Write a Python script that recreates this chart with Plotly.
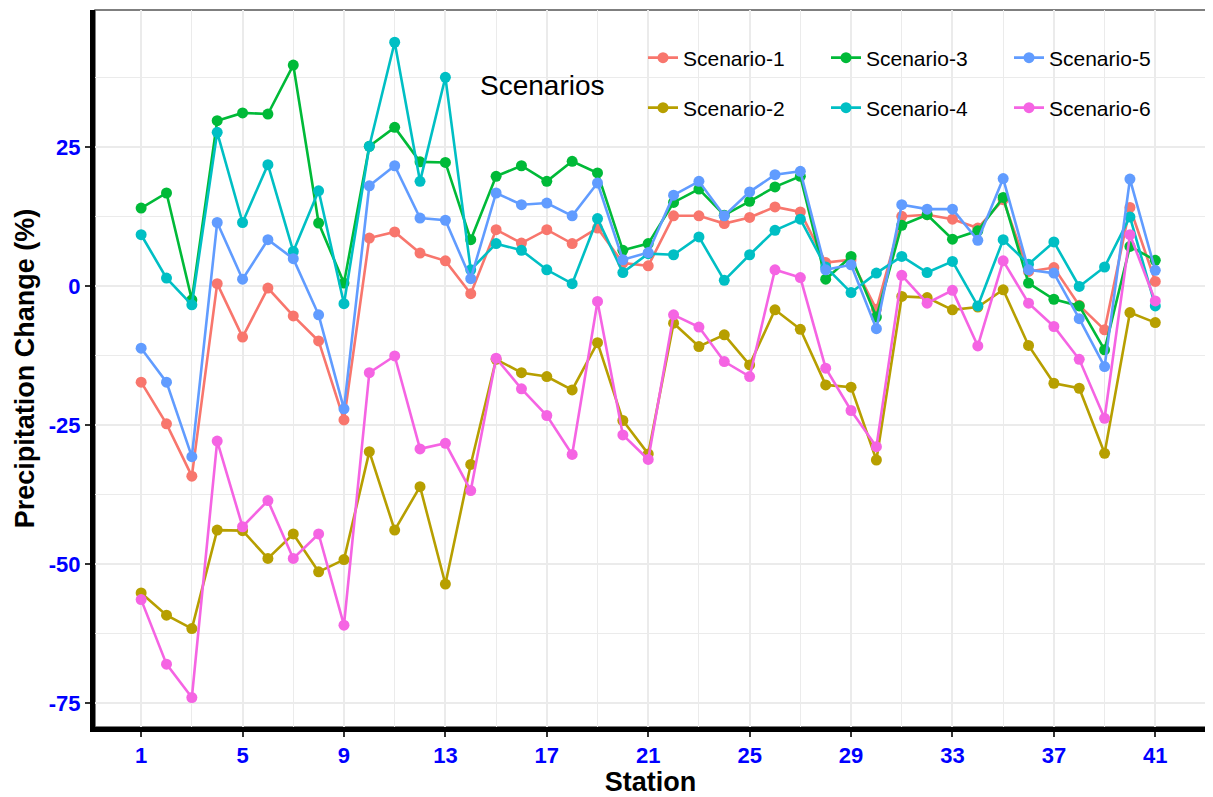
import plotly.graph_objects as go

stations = list(range(1, 42))

scenario_1 = [-17.3, -24.8, -34.2, 0.4, -9.2, -0.4, -5.4, -9.9, -24.1, 8.6,
              9.7, 5.9, 4.5, -1.4, 10.1, 7.7, 10.1, 7.6, 10.4, 4.1,
              3.6, 12.6, 12.6, 11.2, 12.3, 14.2, 13.3, 4.2, 4.7, -4.2,
              12.5, 12.8, 12.0, 10.4, 15.5, 2.6, 3.3, -3.5, -7.9, 14.1, 0.8]
scenario_2 = [-55.2, -59.2, -61.6, -43.9, -44.0, -49.0, -44.6, -51.4, -49.2, -29.8,
              -43.9, -36.1, -53.6, -32.1, -13.2, -15.6, -16.3, -18.7, -10.2, -24.2,
              -30.2, -6.7, -10.9, -8.8, -14.2, -4.3, -7.8, -17.8, -18.2, -31.3,
              -1.9, -2.1, -4.3, -3.8, -0.7, -10.7, -17.5, -18.4, -30.1, -4.8, -6.6]
scenario_3 = [14.0, 16.7, -2.5, 29.7, 31.1, 30.9, 39.7, 11.3, 0.5, 25.1,
              28.5, 22.3, 22.2, 8.3, 19.7, 21.6, 18.8, 22.4, 20.3, 6.4,
              7.6, 15.0, 17.4, 12.7, 15.2, 17.8, 19.7, 1.2, 5.3, -5.6,
              10.9, 12.8, 8.4, 9.9, 15.9, 0.5, -2.4, -3.6, -11.5, 7.1, 4.6]
scenario_4 = [9.2, 1.4, -3.4, 27.6, 11.4, 21.8, 6.2, 17.1, -3.2, 25.1,
              43.8, 18.8, 37.5, 2.9, 7.6, 6.4, 2.9, 0.4, 12.1, 2.4,
              5.8, 5.6, 8.8, 1.0, 5.6, 10.0, 12.0, 3.4, -1.2, 2.3,
              5.3, 2.4, 4.4, -3.6, 8.3, 3.9, 7.9, -0.1, 3.4, 12.4, -3.6]
scenario_5 = [-11.2, -17.3, -30.7, 11.4, 1.2, 8.3, 4.9, -5.2, -22.1, 18.0,
              21.6, 12.2, 11.8, 1.3, 16.7, 14.6, 14.9, 12.6, 18.5, 4.7,
              6.0, 16.3, 18.8, 12.6, 16.9, 20.0, 20.6, 2.9, 3.8, -7.7,
              14.6, 13.8, 13.8, 8.2, 19.3, 2.9, 2.3, -5.9, -14.5, 19.2, 2.8]
scenario_6 = [-56.4, -68.0, -74.0, -27.9, -43.3, -38.6, -49.0, -44.6, -61.0, -15.6,
              -12.6, -29.3, -28.3, -36.8, -13.0, -18.5, -23.3, -30.3, -2.8, -26.8,
              -31.2, -5.2, -7.4, -13.6, -16.3, 2.9, 1.5, -14.8, -22.4, -28.9,
              1.9, -3.1, -0.8, -10.8, 4.5, -3.1, -7.3, -13.2, -23.8, 9.2, -2.7]

series_names = ["Scenario-1", "Scenario-2", "Scenario-3", "Scenario-4", "Scenario-5", "Scenario-6"]
series_values = [scenario_1, scenario_2, scenario_3, scenario_4, scenario_5, scenario_6]
series_colors = ["#F8766D", "#B79F00", "#00BA38", "#00BFC4", "#619CFF", "#F564E3"]
series_legend = ["legend", "legend2", "legend", "legend2", "legend", "legend2"]

x_tick_vals = [1, 5, 9, 13, 17, 21, 25, 29, 33, 37, 41]
y_tick_vals = [-75, -50, -25, 0, 25]
y_tick_text = ["-75", "-50", "-25", "0", "25"]

FONT = "Liberation Sans, Arial, sans-serif"

fig = go.Figure()
for name, vals, col, lg in zip(series_names, series_values, series_colors, series_legend):
    fig.add_trace(go.Scatter(
        x=stations, y=vals, name=name, mode="lines+markers",
        line=dict(color=col, width=2.6),
        marker=dict(color=col, size=11),
        legend=lg,
    ))

# page body has an 8px margin, so the figure starts at (8, 8) on screen
OFF = 8
W, H = 1213 - OFF, 797 - OFF
SL, SR, ST, SB = 95, 1206, 10, 727     # plot area edges in screen pixels
L, R, T, B = SL - OFF, W - (SR - OFF), ST - OFF, H - (SB - OFF)
pw, ph = W - L - R, H - T - B

def px_x(px):
    return (px - OFF - L) / pw

def px_y(py):
    return (H - B - (py - OFF)) / ph

grid = "#EBEBEB"
fig.update_layout(
    width=W, height=H,
    margin=dict(l=L, r=R, t=T, b=B, autoexpand=False),
    paper_bgcolor="white", plot_bgcolor="white",
    font=dict(family=FONT, color="black"),
    xaxis=dict(
        range=[-0.82, 43.0], tickmode="array", tickvals=x_tick_vals,
        showgrid=True, gridcolor=grid, gridwidth=1.5, zeroline=False,
        minor=dict(dtick=2, tick0=1, showgrid=True, gridcolor=grid, gridwidth=1),
        showline=True, linecolor="black", linewidth=5,
        ticks="outside", ticklen=5, tickwidth=1.5, tickcolor="#333333",
        tickfont=dict(size=22, color="#0000FF", weight="bold", family=FONT),
        title=dict(text="Station", font=dict(size=27, weight="bold", family=FONT), standoff=0),
        automargin=False,
    ),
    yaxis=dict(
        range=[-79.3, 49.6], tickmode="array", tickvals=y_tick_vals, ticktext=y_tick_text,
        showgrid=True, gridcolor=grid, gridwidth=1.5, zeroline=False,
        minor=dict(dtick=12.5, tick0=0, showgrid=True, gridcolor=grid, gridwidth=1),
        showline=True, linecolor="black", linewidth=5,
        ticks="outside", ticklen=5, tickwidth=1.5, tickcolor="#333333",
        tickfont=dict(size=22, color="#0000FF", weight="bold", family=FONT),
        title=dict(text="Precipitation Change (%)", font=dict(size=27, weight="bold", family=FONT), standoff=8),
        automargin=False,
    ),
    legend=dict(
        orientation="h", x=px_x(643), y=px_y(58), xanchor="left", yanchor="middle",
        entrywidth=138, entrywidthmode="pixels", bgcolor="rgba(0,0,0,0)",
        font=dict(size=21, family=FONT), traceorder="normal", itemwidth=30,
    ),
    legend2=dict(
        orientation="h", x=px_x(643), y=px_y(108), xanchor="left", yanchor="middle",
        entrywidth=138, entrywidthmode="pixels", bgcolor="rgba(0,0,0,0)",
        font=dict(size=21, family=FONT), traceorder="normal", itemwidth=30,
    ),
    showlegend=True,
    shapes=[
        dict(type="rect", xref="paper", yref="paper", x0=px_x(465), x1=px_x(1166),
             y0=px_y(146), y1=px_y(17), fillcolor="white", line=dict(width=0), layer="between"),
        dict(type="rect", xref="paper", yref="paper", x0=0, x1=1, y0=0, y1=1,
             fillcolor="rgba(0,0,0,0)", line=dict(color="#555555", width=1.5), layer="below"),
    ],
    annotations=[
        dict(text="Scenarios", xref="paper", yref="paper", x=px_x(478), y=px_y(85),
             xanchor="left", yanchor="middle", showarrow=False,
             font=dict(size=28, color="black", family=FONT)),
    ],
)

fig.write_html("out.html")
